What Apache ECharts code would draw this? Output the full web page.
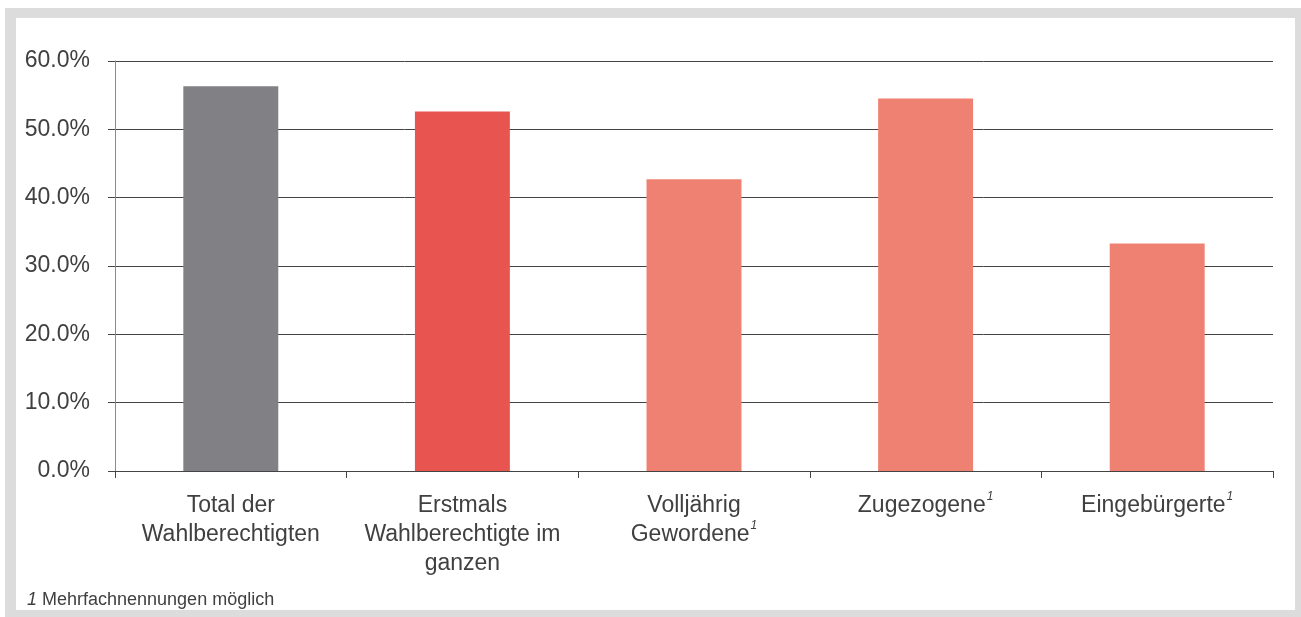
<!DOCTYPE html>
<html>
<head>
<meta charset="utf-8">
<script src="https://cdn.jsdelivr.net/npm/echarts@6/dist/echarts.min.js"></script>
<style>
  body { margin: 0; padding: 0; background: #fff; }
  .frame { position: absolute; left: 5px; top: 8px; right: 0; bottom: 0; background: #dcdcdd; }
  .inner { position: absolute; left: 16px; top: 18px; width: 1279px; height: 592px; background: #fff; }
  #chart { position: absolute; left: 0; top: 0; width: 1301px; height: 617px; }
</style>
</head>
<body>
<div class="frame"></div>
<div class="inner"></div>
<div id="chart"></div>
<script>
// categories (footnote marker appended via rich text)
const categories = [
  'Total der\nWahlberechtigten',
  'Erstmals\nWahlberechtigte im\nganzen',
  'Volljährig\nGewordene',
  'Zugezogene',
  'Eingebürgerte'
];
const footnoted = [false, false, true, true, true];
const values = [56.3, 52.6, 42.7, 54.5, 33.3];
const barColors = ['#818185', '#e85450', '#ef8172', '#ef8172', '#ef8172'];
const yTicks = { min: 0, max: 60, interval: 10 };

const chart = echarts.init(document.getElementById('chart'));

const textStyle = {
  fontFamily: 'Liberation Sans, Arial, sans-serif',
  fontSize: 23,
  color: '#404040'
};

chart.setOption({
  animation: false,
  grid: { left: 115, right: 28, top: 61, bottom: 146 },
  xAxis: {
    type: 'category',
    data: categories,
    axisLine: { lineStyle: { color: '#444', width: 1 } },
    axisTick: { show: true, length: 7, lineStyle: { color: '#444' } },
    axisLabel: {
      margin: 20,
      interval: 0,
      ...textStyle,
      lineHeight: 29,
      formatter: (v, i) => footnoted[i] ? v + '{s|1}' : v,
      rich: {
        s: {
          fontFamily: 'Liberation Sans, Arial, sans-serif',
          fontSize: 12,
          fontStyle: 'italic',
          color: '#404040',
          verticalAlign: 'top',
          lineHeight: 29,
          padding: [0, 0, 9, 1]
        }
      }
    }
  },
  yAxis: {
    type: 'value',
    min: yTicks.min,
    max: yTicks.max,
    interval: yTicks.interval,
    axisLine: { show: true, lineStyle: { color: '#8a8a8a', width: 1 } },
    axisTick: { show: true, length: 7, lineStyle: { color: '#444' } },
    splitLine: { show: true, lineStyle: { color: '#444', width: 1 } },
    axisLabel: {
      margin: 25,
      ...textStyle,
      formatter: v => v.toFixed(1) + '%'
    }
  },
  series: [{
    type: 'bar',
    barWidth: '41%',
    data: values.map((v, i) => ({ value: v, itemStyle: { color: barColors[i] } }))
  }],
  graphic: [{
    type: 'text',
    left: 27,
    top: 591,
    style: {
      text: '{i|1} Mehrfachnennungen möglich',
      fontFamily: 'Liberation Sans, Arial, sans-serif',
      fontSize: 18,
      fill: '#404040',
      rich: {
        i: { fontStyle: 'italic', fontSize: 18, fill: '#404040', fontFamily: 'Liberation Sans, Arial, sans-serif' }
      }
    }
  }]
});
</script>
</body>
</html>
